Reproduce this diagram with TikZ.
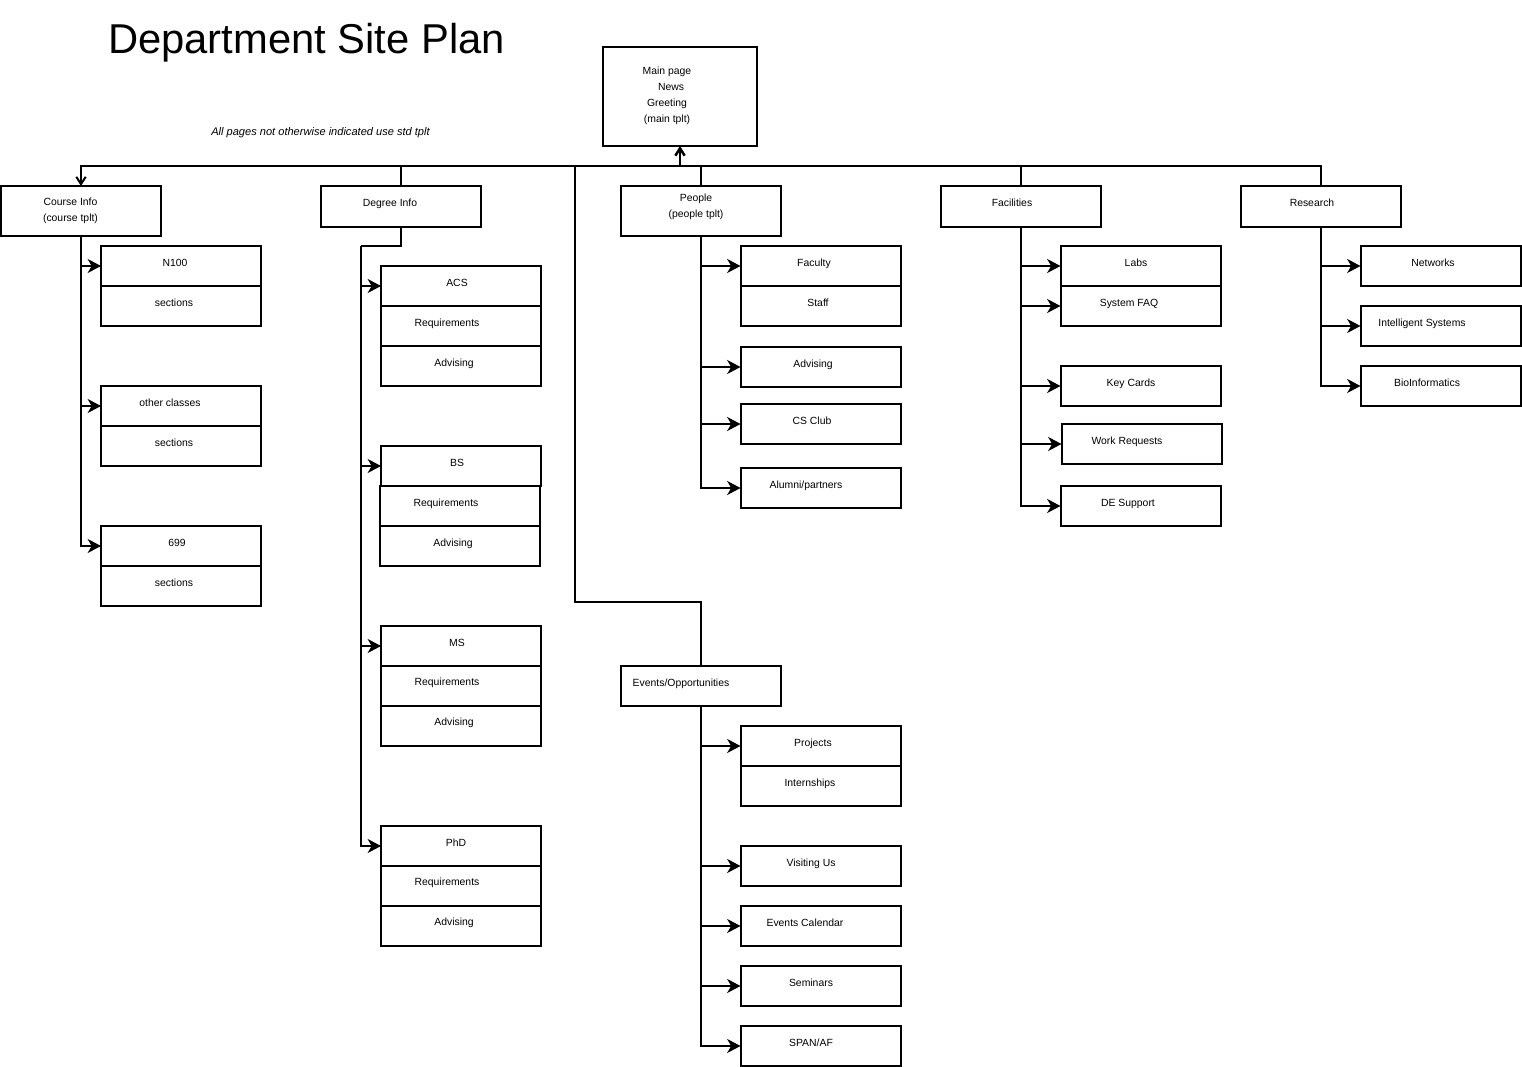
\documentclass[tikz,border=0pt]{standalone}
\usepackage{fontspec}
\setmainfont{Liberation Sans}
\usetikzlibrary{arrows.meta}

\tikzset{
  box/.style={draw,line width=1.5pt,minimum width=120pt,minimum height=30pt,inner sep=0pt,outer sep=0pt},
  txt/.style={inner sep=0pt,font=\fontsize{7.8}{12}\selectfont,text height=5.5pt,text depth=0pt},
  txtm/.style={inner sep=0pt,font=\fontsize{7.8}{12}\selectfont,align=center},
  conn/.style={line width=1.5pt},
  arr/.style={-{Stealth[length=10pt,width=10.5pt,inset=3pt]}},
  openarr/.style={-{Straight Barb[length=5.5pt,width=7pt]}}
}

\begin{document}
\begin{tikzpicture}[x=0.75pt,y=-0.75pt]
		\fill[white] (0,0) rectangle (1522,1067);
		% title and note
		\node[inner sep=0pt,anchor=base,font=\fontsize{31.3}{36}\selectfont] (title) at (306.5,53) {Department Site Plan};
		\node[inner sep=0pt,anchor=base,font=\fontsize{8.3}{10}\selectfont\itshape] (note) at (320.5,135) {All pages not otherwise indicated use std tplt};
		% main page
		\node[box,minimum width=115.5pt,minimum height=74.25pt] (main) at (680,96.5) {};
		\node[txtm] (main-t) at (667,96) {Main page\\ \hspace*{6pt}News\\ Greeting\\ (main tplt)};
		% top level
		\node[box,minimum height=37.5pt] (course) at (81,211) {};
		\node[txtm] (course-t) at (70.5,211) {Course Info\\ (course tplt)};
		\node[box,minimum height=30.75pt] (degree) at (400.5,206.5) {};
		\node[txt] (degree-t) at (390,203) {Degree Info};
		\node[box,minimum height=37.5pt] (people) at (700.5,211) {};
		\node[txtm] (people-t) at (696,207) {People\\ (people tplt)};
		\node[box,minimum height=30.75pt] (facil) at (1020.5,206.5) {};
		\node[txt] (facil-t) at (1012,203) {Facilities};
		\node[box,minimum height=30.75pt] (research) at (1320.5,206.5) {};
		\node[txt] (research-t) at (1312,203) {Research};
		\node[box] (events) at (700.5,686) {};
		\node[txt] (events-t) at (681,683) {Events/Opportunities};
		% course info
		\node[box] (n100) at (181,266) {};
		\node[txt] (n100-t) at (175,263) {N100};
		\node[box] (n100s) at (181,306) {};
		\node[txt] (n100s-t) at (174,303) {sections};
		\node[box] (other) at (181,406) {};
		\node[txt] (other-t) at (170,403) {other classes};
		\node[box] (others) at (181,446) {};
		\node[txt] (others-t) at (174,443) {sections};
		\node[box] (c699) at (181,546) {};
		\node[txt] (c699-t) at (177,543) {699};
		\node[box] (c699s) at (181,586) {};
		\node[txt] (c699s-t) at (174,583) {sections};
		% degree info
		\node[box] (acs) at (461,286) {};
		\node[txt] (acs-t) at (457,283) {ACS};
		\node[box] (acsreq) at (461,326) {};
		\node[txt] (acsreq-t) at (447,323) {Requirements};
		\node[box] (acsadv) at (461,366) {};
		\node[txt] (acsadv-t) at (454,363) {Advising};
		\node[box] (bs) at (461,466) {};
		\node[txt] (bs-t) at (457,463) {BS};
		\node[box] (bsreq) at (460,506) {};
		\node[txt] (bsreq-t) at (446,503) {Requirements};
		\node[box] (bsadv) at (460,546) {};
		\node[txt] (bsadv-t) at (453,543) {Advising};
		\node[box] (ms) at (461,646) {};
		\node[txt] (ms-t) at (457,643) {MS};
		\node[box] (msreq) at (461,686) {};
		\node[txt] (msreq-t) at (447,682) {Requirements};
		\node[box] (msadv) at (461,726) {};
		\node[txt] (msadv-t) at (454,722) {Advising};
		\node[box] (phd) at (461,846) {};
		\node[txt] (phd-t) at (456,843) {PhD};
		\node[box] (phdreq) at (461,886) {};
		\node[txt] (phdreq-t) at (447,882) {Requirements};
		\node[box] (phdadv) at (461,926) {};
		\node[txt] (phdadv-t) at (454,922) {Advising};
		% people
		\node[box] (faculty) at (820.5,266) {};
		\node[txt] (faculty-t) at (814,263) {Faculty};
		\node[box] (staff) at (820.5,306) {};
		\node[txt] (staff-t) at (818,303) {Staff};
		\node[box] (padv) at (820.5,367) {};
		\node[txt] (padv-t) at (813,364) {Advising};
		\node[box] (csclub) at (820.5,424) {};
		\node[txt] (csclub-t) at (812,421) {CS Club};
		\node[box] (alumni) at (820.5,488) {};
		\node[txt] (alumni-t) at (806,485) {Alumni/partners};
		% facilities
		\node[box] (labs) at (1140.5,266) {};
		\node[txt] (labs-t) at (1136,263) {Labs};
		\node[box] (sysfaq) at (1140.5,306) {};
		\node[txt] (sysfaq-t) at (1129,303) {System FAQ};
		\node[box] (keycards) at (1140.5,386) {};
		\node[txt] (keycards-t) at (1131,383) {Key Cards};
		\node[box] (workreq) at (1141.5,444) {};
		\node[txt] (workreq-t) at (1127,441) {Work Requests};
		\node[box] (desupport) at (1140.5,506) {};
		\node[txt] (desupport-t) at (1128,503) {DE Support};
		% research
		\node[box] (networks) at (1440.5,266) {};
		\node[txt] (networks-t) at (1433,263) {Networks};
		\node[box] (intsys) at (1440.5,326) {};
		\node[txt] (intsys-t) at (1422,323) {Intelligent Systems};
		\node[box] (bioinf) at (1440.5,386) {};
		\node[txt] (bioinf-t) at (1427,383) {BioInformatics};
		% events
		\node[box] (projects) at (820.5,746) {};
		\node[txt] (projects-t) at (813,743) {Projects};
		\node[box] (intern) at (820.5,786) {};
		\node[txt] (intern-t) at (810,783) {Internships};
		\node[box] (visiting) at (820.5,866) {};
		\node[txt] (visiting-t) at (811,863) {Visiting Us};
		\node[box] (evcal) at (820.5,926) {};
		\node[txt] (evcal-t) at (805,923) {Events Calendar};
		\node[box] (seminars) at (820.5,986) {};
		\node[txt] (seminars-t) at (811,983) {Seminars};
		\node[box] (span) at (820.5,1046) {};
		\node[txt] (span-t) at (811,1043) {SPAN/AF};
		% bus under main page
		\coordinate (bus) at (680,166);
		\coordinate (evbend) at (575,602);
		\coordinate (dgbend) at (361,246);
		\draw[conn,line width=1.9pt,openarr] (bus) -- (main.south);
		\draw[conn,openarr] (bus) -| (course.north);
		\draw[conn] (bus) -| (degree.north);
		\draw[conn] (bus) -| (people.north);
		\draw[conn] (bus) -| (facil.north);
		\draw[conn] (bus) -| (research.north);
		\draw[conn] (bus) -| (evbend) -| (events.north);
		% course info links
		\draw[conn,arr] (course.south) |- (n100.west);
		\draw[conn,arr] (course.south) |- (other.west);
		\draw[conn,arr] (course.south) |- (c699.west);
		% degree info links
		\draw[conn] (degree.south) |- (dgbend);
		\draw[conn,arr] (dgbend) |- (acs.west);
		\draw[conn,arr] (dgbend) |- (bs.west);
		\draw[conn,arr] (dgbend) |- (ms.west);
		\draw[conn,arr] (dgbend) |- (phd.west);
		% people links
		\draw[conn,arr] (people.south) |- (faculty.west);
		\draw[conn,arr] (people.south) |- (padv.west);
		\draw[conn,arr] (people.south) |- (csclub.west);
		\draw[conn,arr] (people.south) |- (alumni.west);
		% facilities links
		\draw[conn,arr] (facil.south) |- (labs.west);
		\draw[conn,arr] (facil.south) |- (sysfaq.west);
		\draw[conn,arr] (facil.south) |- (keycards.west);
		\draw[conn,arr] (facil.south) |- (workreq.west);
		\draw[conn,arr] (facil.south) |- (desupport.west);
		% research links
		\draw[conn,arr] (research.south) |- (networks.west);
		\draw[conn,arr] (research.south) |- (intsys.west);
		\draw[conn,arr] (research.south) |- (bioinf.west);
		% events links
		\draw[conn,arr] (events.south) |- (projects.west);
		\draw[conn,arr] (events.south) |- (visiting.west);
		\draw[conn,arr] (events.south) |- (evcal.west);
		\draw[conn,arr] (events.south) |- (seminars.west);
		\draw[conn,arr] (events.south) |- (span.west);
		\end{tikzpicture}
\end{document}
